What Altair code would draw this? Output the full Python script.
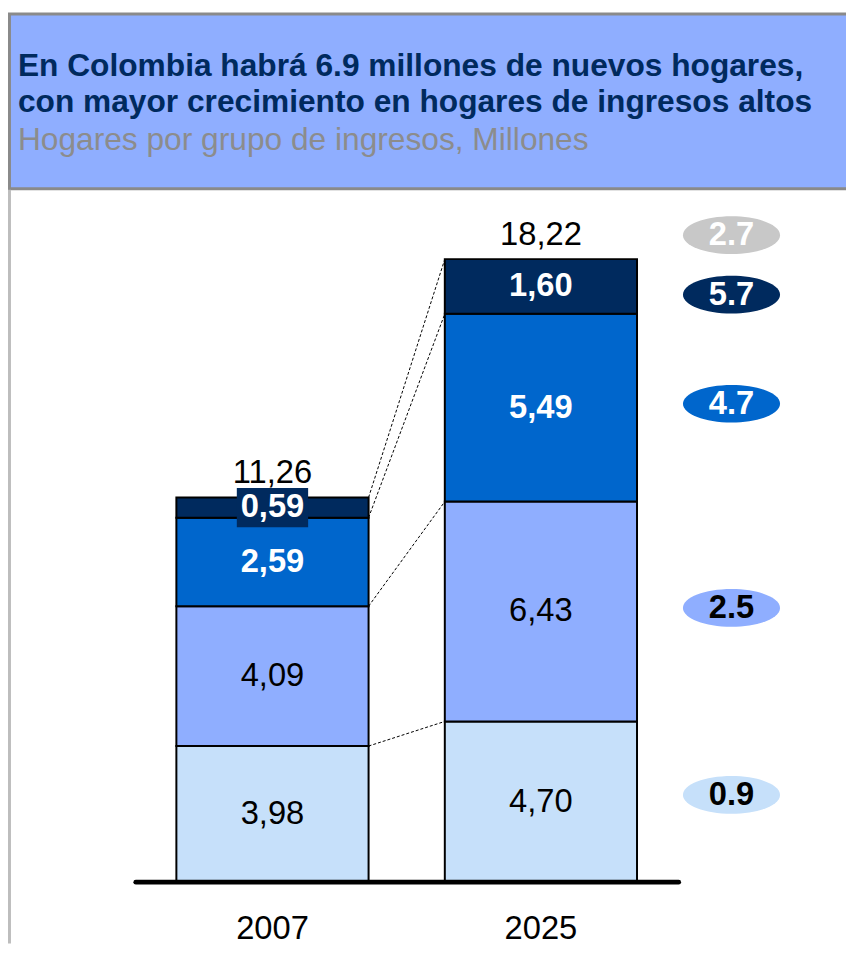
import altair as alt
import pandas as pd

# ---------------- data ----------------
years = ["2007", "2025"]
groups = ["Bajo", "Medio-bajo", "Medio-alto", "Alto"]        # bottom -> top
hogares_2007 = [3.98, 4.09, 2.59, 0.59]
hogares_2025 = [4.70, 6.43, 5.49, 1.60]
totals = [11.26, 18.22]
growth_labels = ["Total", "Alto", "Medio-alto", "Medio-bajo", "Bajo"]
growth = [2.7, 5.7, 4.7, 2.5, 0.9]
title_lines = ["En Colombia habrá 6.9 millones de nuevos hogares,",
               "con mayor crecimiento en hogares de ingresos altos"]
subtitle = "Hogares por grupo de ingresos, Millones"

# ---------------- style / layout ----------------
seg_colors = ["#c6e0fa", "#8faeff", "#0066cc", "#002a5e"]
seg_text = ["black", "black", "white", "white"]
seg_bold = [False, False, True, True]
badge_fill = ["#c8c8c8", "#002a5e", "#0066cc", "#8faeff", "#c6e0fa"]
badge_text = ["white", "white", "white", "black", "black"]
badge_y = [18.92, 17.18, 13.99, 8.02, 2.55]
badge_x = 1.71
half_w = 0.358
FONT = "Liberation Sans"
FS_T = 32
FS = 33
W, H = 846, 940
XS = alt.Scale(domain=[-0.98524, 2.13653], nice=False, zero=False)
YS = alt.Scale(domain=[-1.7961, 25.4345], nice=False, zero=False)

def fmt(v):
    return f"{v:.2f}".replace(".", ",")

rows = []
for yi, vals in enumerate([hogares_2007, hogares_2025]):
    cum = 0.0
    for gi, v in enumerate(vals):
        rows.append(dict(year=years[yi], group=groups[gi], xc=yi,
                         xl=yi - half_w, xr=yi + half_w,
                         y0=cum, y1=cum + v, mid=cum + v / 2,
                         label=fmt(v), fill=seg_colors[gi],
                         tcol=seg_text[gi], bold=seg_bold[gi]))
        cum += v
segs = pd.DataFrame(rows)

# connectors between cumulative tops
conn_rows = []
c07 = c25 = 0.0
for a, b in zip(hogares_2007, hogares_2025):
    c07 += a
    c25 += b
    conn_rows.append(dict(x=0 + half_w, x2=1 - half_w, y=c07, y2=c25))
conn = pd.DataFrame(conn_rows)

tot = pd.DataFrame(dict(xc=[0, 1], total=totals,
                        label=[fmt(t) for t in totals],
                        ty=[t + 0.7 for t in totals], year=years,
                        yy=[-1.36, -1.36]))

badges = pd.DataFrame(dict(name=growth_labels, g=growth,
                           label=[f"{g:.1f}" for g in growth],
                           y=badge_y, x=[badge_x] * 5,
                           fill=badge_fill, tcol=badge_text))

dummy = pd.DataFrame({"a": [0]})

ELLIPSE = ("M -1 0 C -1 -0.2145 -0.5523 -0.388 0 -0.388 C 0.5523 -0.388 1 -0.2145 1 0 "
           "C 1 0.2145 0.5523 0.388 0 0.388 C -0.5523 0.388 -1 0.2145 -1 0 Z")
BOX = "M -1 -0.55 L 1 -0.55 L 1 0.55 L -1 0.55 Z"

# ---------------- layers ----------------
title_box = alt.Chart(dummy).mark_rect(fill="#8faeff", stroke="#8a8a8a", strokeWidth=3).encode(
    x=alt.value(1.5), x2=alt.value(900), y=alt.value(1.5), y2=alt.value(178))
left_border = alt.Chart(dummy).mark_rule(color="#bdbdbd", strokeWidth=3).encode(
    x=alt.value(1.5), y=alt.value(179), y2=alt.value(H))

def title_text(txt, y, bold, color):
    kw = dict(text=txt, font=FONT, fontSize=FS_T, color=color, align="left", baseline="alphabetic")
    if bold:
        kw["fontWeight"] = "bold"
    return alt.Chart(dummy).mark_text(**kw).encode(x=alt.value(10), y=alt.value(y))

t1 = title_text(title_lines[0], 64, True, "#002a5e")
t2 = title_text(title_lines[1], 101, True, "#002a5e")
t3 = title_text(subtitle, 139, False, "#8c8c8c")

bars = alt.Chart(segs).mark_rect(stroke="black", strokeWidth=2).encode(
    x=alt.X("xl:Q", scale=XS, axis=None), x2="xr:Q",
    y=alt.Y("y0:Q", scale=YS, axis=None), y2="y1:Q",
    fill=alt.Fill("fill:N", scale=None))

connectors = alt.Chart(conn).mark_rule(color="black", strokeWidth=1, strokeDash=[3, 2]).encode(
    x=alt.X("x:Q", scale=XS, axis=None), x2="x2:Q",
    y=alt.Y("y:Q", scale=YS, axis=None), y2="y2:Q")

baseline = alt.Chart(dummy).mark_rule(color="black", strokeWidth=5, strokeCap="round").encode(
    x=alt.X("lo:Q", scale=XS, axis=None), x2="hi:Q",
    y=alt.Y("z:Q", scale=YS, axis=None)).transform_calculate(lo="-0.509", hi="1.513", z="0")

lbl_norm = alt.Chart(segs).transform_filter("!datum.bold").mark_text(
    font=FONT, fontSize=FS, color="black", baseline="middle").encode(
    x=alt.X("xc:Q", scale=XS, axis=None), y=alt.Y("mid:Q", scale=YS, axis=None), text="label:N")

small_box = alt.Chart(segs).transform_filter("datum.y1 - datum.y0 < 1").mark_point(
    shape=BOX, size=72 * 72, filled=True, opacity=1, color="#002a5e", strokeWidth=0).encode(
    x=alt.X("xc:Q", scale=XS, axis=None), y=alt.Y("mid:Q", scale=YS, axis=None))

lbl_bold = alt.Chart(segs).transform_filter("datum.bold").mark_text(
    font=FONT, fontSize=FS, fontWeight="bold", color="white", baseline="middle").encode(
    x=alt.X("xc:Q", scale=XS, axis=None), y=alt.Y("mid:Q", scale=YS, axis=None), text="label:N")

tot_lbl = alt.Chart(tot).mark_text(font=FONT, fontSize=FS, color="black", baseline="middle").encode(
    x=alt.X("xc:Q", scale=XS, axis=None), y=alt.Y("ty:Q", scale=YS, axis=None), text="label:N")

year_lbl = alt.Chart(tot).mark_text(font=FONT, fontSize=FS, color="black", baseline="middle").encode(
    x=alt.X("xc:Q", scale=XS, axis=None), y=alt.Y("yy:Q", scale=YS, axis=None), text="year:N")

badge = alt.Chart(badges).mark_point(shape=ELLIPSE, size=98 * 98, filled=True, opacity=1,
                                     strokeWidth=0).encode(
    x=alt.X("x:Q", scale=XS, axis=None), y=alt.Y("y:Q", scale=YS, axis=None),
    fill=alt.Fill("fill:N", scale=None))
badge_txt = alt.Chart(badges).mark_text(font=FONT, fontSize=FS, fontWeight="bold",
                                        baseline="middle").encode(
    x=alt.X("x:Q", scale=XS, axis=None), y=alt.Y("y:Q", scale=YS, axis=None),
    text="label:N", color=alt.Color("tcol:N", scale=None))

chart = alt.layer(
    title_box, left_border, t1, t2, t3,
    bars, connectors, baseline, lbl_norm, small_box, lbl_bold, tot_lbl, year_lbl,
    badge, badge_txt
).properties(
    width=W, height=H, padding=0,
    autosize=alt.AutoSizeParams(type="none")
).configure_view(stroke=None)

chart.save("out.html", embed_options={"renderer": "svg", "actions": False})
